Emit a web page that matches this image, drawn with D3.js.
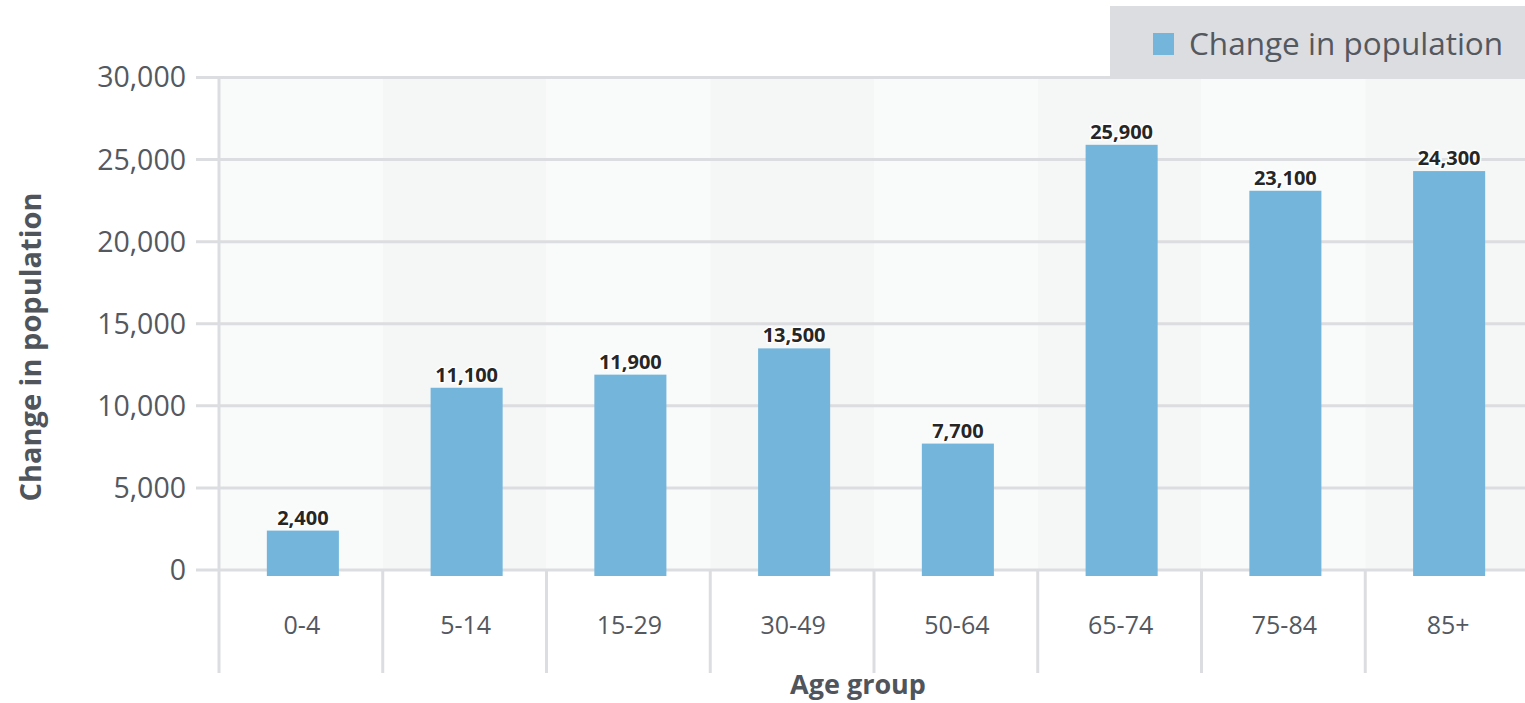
<!DOCTYPE html>
<html>
<head>
<meta charset="utf-8">
<script src="https://cdn.jsdelivr.net/npm/d3@7"></script>
<style>
  body { margin: 0; background: #fff; }
  svg { display: block; font-family: "Open Sans", sans-serif; }
</style>
</head>
<body>
<svg width="1525" height="703"></svg>
<script>
// Data
var ageGroups = ["0-4", "5-14", "15-29", "30-49", "50-64", "65-74", "75-84", "85+"];
var populationChange = [2400, 11100, 11900, 13500, 7700, 25900, 23100, 24300];
var yTicks = [0, 5000, 10000, 15000, 20000, 25000, 30000];
var seriesName = "Change in population";

var svg = d3.select("svg");
var width = +svg.attr("width");
var height = +svg.attr("height");

var plot = { left: 219, right: 1529, top: 77.5, bottom: 570 };
var gridColor = "#dcdde0";
var barColor = "#74b6db";
var textColor = "#54585f";

var x = d3.scaleBand()
    .domain(ageGroups)
    .range([plot.left, plot.right])
    .padding(0);

var y = d3.scaleLinear()
    .domain([0, 30000])
    .range([plot.bottom, plot.top]);

var fmt = d3.format(",");

// Alternating column backgrounds
svg.append("g")
    .selectAll("rect")
    .data(ageGroups)
    .enter().append("rect")
    .attr("x", d => x(d))
    .attr("y", plot.top)
    .attr("width", x.bandwidth())
    .attr("height", plot.bottom - plot.top)
    .attr("fill", (d, i) => i % 2 ? "#f5f6f6" : "#f9fafa");

// Horizontal grid
svg.append("g")
    .selectAll("line")
    .data(yTicks)
    .enter().append("line")
    .attr("x1", 196)
    .attr("x2", width)
    .attr("y1", d => y(d))
    .attr("y2", d => y(d))
    .attr("stroke", gridColor)
    .attr("stroke-width", 3);

// Category separators below the baseline
var seps = ageGroups.map(d => x(d)).concat([plot.right]);
svg.append("g")
    .selectAll("line")
    .data(seps)
    .enter().append("line")
    .attr("x1", d => d)
    .attr("x2", d => d)
    .attr("y1", (d, i) => i === 0 ? plot.top : plot.bottom)
    .attr("y2", 673)
    .attr("stroke", gridColor)
    .attr("stroke-width", 3);

// Y tick labels
svg.append("g")
    .selectAll("text")
    .data(yTicks)
    .enter().append("text")
    .attr("x", 186)
    .attr("y", d => y(d))
    .attr("dy", "0.35em")
    .attr("text-anchor", "end")
    .attr("fill", textColor)
    .style("font-size", "28.5px")
    .text(d => fmt(d));

// Bars
var barW = x.bandwidth() * 0.44;
svg.append("g")
    .selectAll("rect")
    .data(populationChange)
    .enter().append("rect")
    .attr("x", (d, i) => x(ageGroups[i]) + (x.bandwidth() - barW) / 2 + 2)
    .attr("y", d => y(d))
    .attr("width", barW)
    .attr("height", d => y(0) - y(d) + 6)
    .attr("fill", barColor);

// Bar value labels
svg.append("g")
    .selectAll("text")
    .data(populationChange)
    .enter().append("text")
    .attr("x", (d, i) => x(ageGroups[i]) + x.bandwidth() / 2 + 2)
    .attr("y", d => y(d) - 6)
    .attr("text-anchor", "middle")
    .attr("fill", "#262626")
    .attr("stroke", "#fff")
    .attr("stroke-width", 3)
    .attr("paint-order", "stroke")
    .style("font-size", "20px")
    .style("font-weight", "bold")
    .text(d => fmt(d));

// X tick labels
svg.append("g")
    .selectAll("text")
    .data(ageGroups)
    .enter().append("text")
    .attr("x", d => x(d) + x.bandwidth() / 2 + 1)
    .attr("y", 625)
    .attr("dy", "0.35em")
    .attr("text-anchor", "middle")
    .attr("fill", textColor)
    .style("font-size", "25px")
    .text(d => d);

// Axis titles
svg.append("text")
    .attr("x", 858)
    .attr("y", 694)
    .attr("text-anchor", "middle")
    .attr("fill", "#50545b")
    .style("font-size", "27px")
    .style("font-weight", "bold")
    .text("Age group");

svg.append("text")
    .attr("transform", "translate(31,347) rotate(-90)")
    .attr("dy", "0.35em")
    .attr("text-anchor", "middle")
    .attr("fill", "#50545b")
    .style("font-size", "29px")
    .style("font-weight", "bold")
    .text("Change in population");

// Legend
var legend = svg.append("g");
legend.append("rect")
    .attr("x", 1110)
    .attr("y", 6)
    .attr("width", width - 1110)
    .attr("height", 73)
    .attr("fill", "#dcdde1");
legend.append("rect")
    .attr("x", 1153)
    .attr("y", 33)
    .attr("width", 21)
    .attr("height", 22)
    .attr("fill", barColor);
legend.append("text")
    .attr("x", 1189)
    .attr("y", 44)
    .attr("dy", "0.35em")
    .attr("fill", textColor)
    .style("font-size", "31.5px")
    .text(seriesName);
</script>
</body>
</html>
